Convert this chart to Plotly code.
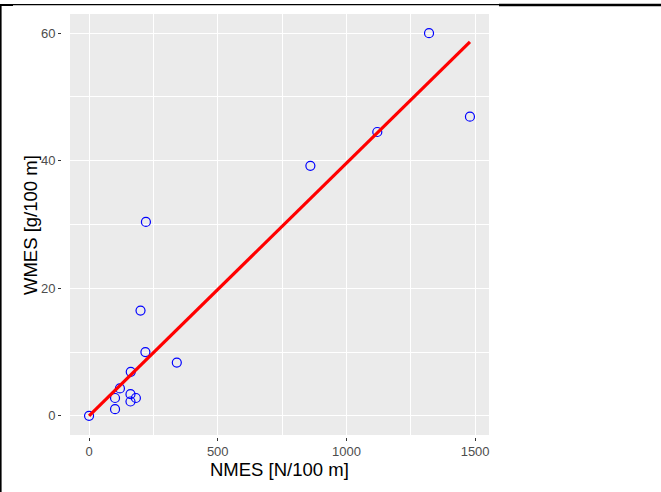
import numpy as np
import plotly.graph_objects as go

# ---- data ----
nmes = [0, 101, 101, 120, 161, 161, 182, 162, 219, 341, 221, 200, 1321, 1480, 1120, 860]
wmes = [0, 1.05, 2.8, 4.3, 3.4, 2.25, 2.8, 6.9, 10.0, 8.35, 30.4, 16.5, 60.0, 46.9, 44.5, 39.2]
x_ticks = [0, 500, 1000, 1500]
y_ticks = [0, 20, 40, 60]
x_title = "NMES [N/100 m]"
y_title = "WMES [g/100 m]"

x = np.array(nmes, dtype=float)
y = np.array(wmes, dtype=float)
# linear fit through the origin
slope = float((x * y).sum() / (x * x).sum())
fit_x = np.array([x.min(), x.max()])
fit_y = slope * fit_x

def expand(lo, hi, f=0.05):
    d = (hi - lo) * f
    return [lo - d, hi + d]

xr = expand(x.min(), x.max())
yr = expand(y.min(), y.max())

# ---- pixel layout helpers ----
W, H = 661, 492
L, R, T, B = 55, 489, 14, 440
def px(v):
    return (v - L) / (R - L)
def py(v):
    return (B - v) / (B - T)

fig = go.Figure()
fig.add_trace(go.Scatter(x=nmes, y=wmes, mode="markers",
                         marker=dict(symbol="circle-open", size=9, color="blue",
                                     line=dict(width=1.2, color="blue")),
                         showlegend=False, hoverinfo="skip"))
fig.add_trace(go.Scatter(x=fit_x, y=fit_y, mode="lines",
                         line=dict(color="red", width=3.2),
                         showlegend=False, hoverinfo="skip"))

font = "Liberation Sans, Arial, sans-serif"
tickfont = dict(family=font, size=13, color="#4D4D4D")

fig.update_layout(
    width=W, height=H,
    margin=dict(l=L, r=W - R, t=T, b=H - B, pad=0),
    paper_bgcolor="white", plot_bgcolor="#EBEBEB",
    font=dict(family=font),
    xaxis=dict(domain=[px(70), 1], anchor="free", position=py(436.5),
               range=xr, tickvals=x_ticks, ticktext=[str(t) for t in x_ticks],
               ticks="outside", ticklen=3, tickwidth=1, tickcolor="#333333",
               tickfont=tickfont, showline=False, zeroline=False,
               showgrid=True, gridcolor="white", gridwidth=1.1,
               minor=dict(dtick=250, tick0=0, showgrid=True, gridcolor="white",
                          gridwidth=0.55, ticks="")),
    yaxis=dict(domain=[py(435), 1], anchor="free", position=px(61),
               range=yr, tickvals=y_ticks, ticktext=[str(t) for t in y_ticks],
               ticks="outside", ticklen=3, tickwidth=1, tickcolor="#333333",
               tickfont=tickfont, showline=False, zeroline=False,
               showgrid=True, gridcolor="white", gridwidth=1.1,
               minor=dict(dtick=10, tick0=0, showgrid=True, gridcolor="white",
                          gridwidth=0.55, ticks="")),
)

fig.add_annotation(text=x_title, xref="paper", yref="paper",
                   x=px(279.5), y=py(469), xanchor="center", yanchor="middle",
                   showarrow=False, font=dict(family=font, size=18.5, color="black"))
fig.add_annotation(text=y_title, xref="paper", yref="paper",
                   x=px(30), y=py(225), xanchor="center", yanchor="middle",
                   textangle=-90, showarrow=False,
                   font=dict(family=font, size=18.5, color="black"))

# screenshot frame lines
def rect(x0, y0, x1, y1):
    fig.add_shape(type="rect", xref="paper", yref="paper",
                  x0=px(x0), x1=px(x1), y0=py(y1), y1=py(y0),
                  fillcolor="black", line=dict(width=0), layer="above")

rect(0, 4, 1.6, 492)
rect(0, 4, 499, 5.2)
rect(499, 3.8, 661, 6.2)
rect(0, 4, 13, 6)

fig.write_html("out.html", config={"displayModeBar": False},
               post_script="document.body.style.margin='0px';document.body.style.overflow='hidden';")
